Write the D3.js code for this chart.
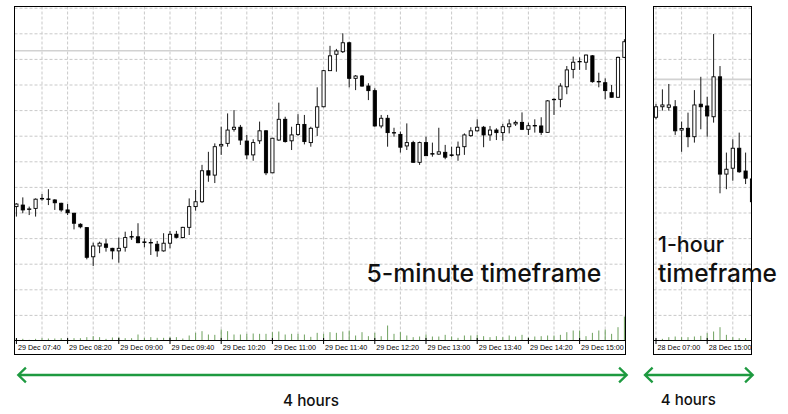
<!DOCTYPE html>
<html><head><meta charset="utf-8">
<script src="https://cdn.jsdelivr.net/npm/d3@7"></script>
<style>html,body{margin:0;padding:0;background:#fff;} svg{display:block;}</style>
</head><body>
<svg id="chart" width="788" height="414"></svg>
<script>
// ---------- 5-minute timeframe (29 Dec, 07:40 onward) ----------
const open5m  = [52.5,53.1,51.4,51.8,55.5,55.5,55.1,53.8,51.2,49.9,45.6,44.3,32.9,37.1,37.9,36.2,35.2,36.6,40.8,40.7,38.7,38.5,37.8,35.2,38.2,41.7,40.4,44.4,52.5,54.4,66.5,64.8,76.2,77.2,82.7,83.5,78.1,72.7,78.2,82.1,65.7,78.5,86.6,78.2,80.7,84.6,77.5,83.5,91.5,105.6,112.0,113.0,116.5,102.6,103.5,99.6,97.8,84.0,87.0,81.4,80.7,76.2,77.5,69.8,77.5,73.2,73.0,73.7,72.7,72.7,75.9,80.2,82.1,83.5,80.5,82.4,81.4,83.7,84.8,85.4,82.7,84.2,84.0,81.5,94.3,94.4,99.3,106.1,109.2,108.9,111.4,101.4,100.9,97.0,95.2,110.8];
const high5m  = [53.8,56.1,52.5,55.7,57.4,59.3,55.4,54.0,53.5,50.1,46.0,44.4,38.4,38.8,39.8,36.4,40.4,42.7,43.0,46.0,40.1,39.8,39.1,42.1,43.0,43.0,44.6,55.7,59.0,68.8,73.9,77.2,83.7,88.9,90.2,84.4,80.5,78.8,85.7,82.4,79.3,93.1,87.6,83.7,88.6,88.3,83.7,99.1,105.9,115.3,114.1,120.2,116.9,103.9,103.9,100.7,98.7,88.3,88.3,83.3,81.8,85.0,78.2,77.9,79.8,77.5,83.3,76.6,75.9,77.9,81.1,83.5,86.6,84.0,84.0,83.1,84.8,86.6,86.1,89.3,85.3,86.6,87.4,94.1,94.8,100.7,107.4,111.1,110.8,111.9,111.7,104.8,102.6,100.0,111.1,117.9];
const low5m   = [48.6,49.9,49.2,48.6,54.8,53.1,51.2,50.5,49.2,43.6,44.0,31.9,29.3,34.3,34.9,31.9,30.6,34.9,39.5,38.2,36.6,33.6,32.9,34.9,36.2,40.1,40.1,41.4,50.9,53.9,62.2,61.7,72.7,75.9,81.8,76.6,71.0,70.4,77.0,64.8,65.6,78.2,77.5,74.6,80.1,76.8,75.9,80.1,91.3,105.5,105.2,112.5,99.1,98.0,99.3,94.1,83.7,83.1,75.9,79.8,73.6,74.6,69.7,68.8,72.3,72.0,72.7,71.0,72.0,70.4,72.7,79.8,81.8,75.7,78.2,78.5,78.2,81.1,84.0,82.4,80.5,81.4,80.5,81.4,88.3,91.3,96.4,102.6,105.9,105.9,100.9,99.1,94.4,95.1,95.0,110.5];
const close5m = [53.5,51.2,51.6,55.4,55.7,55.3,54.0,51.2,50.1,46.0,44.6,32.7,37.1,38.2,36.6,35.2,36.2,40.4,40.6,38.4,38.5,38.3,35.2,38.2,41.7,40.5,44.4,52.5,54.4,66.5,64.8,75.9,76.8,82.4,83.5,78.5,72.7,77.5,82.1,65.7,79.2,86.6,77.9,80.5,84.6,77.9,83.1,91.5,105.6,111.4,113.3,116.5,102.6,103.5,99.6,97.8,84.0,87.0,81.4,81.3,75.7,77.5,69.8,77.5,72.4,73.0,73.9,71.8,72.5,75.7,80.5,82.1,83.5,80.5,82.4,81.4,83.7,84.8,85.4,82.7,84.1,84.0,81.5,93.8,94.4,99.6,105.9,108.9,109.1,111.7,101.3,101.2,97.8,95.2,110.8,116.9];
const volume5m = [50,50,20,50,70,60,60,70,60,70,70,100,130,100,50,90,100,70,70,180,80,100,80,80,110,100,60,150,230,280,180,170,330,280,180,180,200,210,200,200,250,270,180,200,200,180,110,230,200,250,230,270,300,150,250,130,230,130,450,200,250,150,100,120,180,120,120,170,120,80,150,150,170,130,100,130,100,150,120,170,100,120,130,150,150,170,250,300,300,130,230,300,330,200,400,720];
const level5m = 113.4;
const tickIdx5m = [0,8,16,24,32,40,48,56,64,72,80,88];
const tickLabels5m = ["29 Dec 07:40","29 Dec 08:20","29 Dec 09:00","29 Dec 09:40","29 Dec 10:20","29 Dec 11:00","29 Dec 11:40","29 Dec 12:20","29 Dec 13:00","29 Dec 13:40","29 Dec 14:20","29 Dec 15:00"];

// ---------- 1-hour timeframe (28 Dec, 07:00 onward) ----------
const open1h  = [87.4,91.5,91.3,91.5,82.4,83.1,79.8,92.5,91.8,87.6,103.2,65.2,67.5,75.3,66.4,63.3];
const high1h  = [92.6,98.3,100.4,94.1,85.7,89.2,98.0,103.2,95.4,119.9,107.4,73.6,78.8,81.4,73.6,63.7];
const low1h   = [86.6,90.0,90.0,80.5,73.9,75.7,77.5,82.7,79.8,85.3,57.7,59.3,62.6,65.7,61.3,53.1];
const close1h = [91.5,92.2,92.2,82.1,83.0,79.8,92.2,91.5,87.9,103.2,65.2,67.1,75.3,66.1,63.6,54.4];
const volume1h = [20,50,100,120,100,100,120,140,220,270,400,170,100,70,70,60];
const level1h = 102.2;
const tickIdx1h = [0,8];
const tickLabels1h = ["28 Dec 07:00","28 Dec 15:00"];

const svg = d3.select("#chart");
const defs = svg.append("defs");

function drawPanel(cfg) {
  const g = svg.append("g");
  const id = "clip-" + cfg.name;
  defs.append("clipPath").attr("id", id).append("rect")
    .attr("x", cfg.left).attr("y", cfg.top)
    .attr("width", cfg.right - cfg.left).attr("height", cfg.axisY - cfg.top);

  const n = cfg.open.length;
  const x = d3.scaleLinear().domain([0, n - 1]).range([cfg.x0, cfg.x0 + cfg.step * (n - 1)]);
  const y = d3.scaleLinear().domain([0, 130]).range([341, 8.2]);
  const vy = d3.scaleLinear().domain([0, 1000]).range([cfg.axisY, cfg.axisY - 33.3]);

  const plot = g.append("g").attr("clip-path", `url(#${id})`);

  plot.selectAll("line.hg").data(d3.range(10, 131, 10)).join("line")
    .attr("x1", cfg.left).attr("x2", cfg.right)
    .attr("y1", d => y(d)).attr("y2", d => y(d))
    .attr("stroke", "#c9c9c9").attr("stroke-width", 1).attr("stroke-dasharray", "3,2");
  const gridIdx = d3.range(cfg.gridStart, n, 4);
  plot.selectAll("line.vg").data(gridIdx).join("line")
    .attr("x1", d => x(d)).attr("x2", d => x(d))
    .attr("y1", cfg.top).attr("y2", cfg.axisY)
    .attr("stroke", "#c9c9c9").attr("stroke-width", 1).attr("stroke-dasharray", "3,2");

  plot.append("line").attr("x1", cfg.left).attr("x2", cfg.right)
    .attr("y1", y(cfg.level)).attr("y2", y(cfg.level))
    .attr("stroke", "#d2d2d2").attr("stroke-width", 1.6);

  plot.selectAll("line.vol").data(cfg.volume).join("line")
    .attr("x1", (d, i) => x(i)).attr("x2", (d, i) => x(i))
    .attr("y1", cfg.axisY).attr("y2", d => vy(d))
    .attr("stroke", "#6fa25f").attr("stroke-width", 1);

  const idx = d3.range(n);
  plot.selectAll("line.wick").data(idx).join("line")
    .attr("x1", i => x(i)).attr("x2", i => x(i))
    .attr("y1", i => y(cfg.high[i])).attr("y2", i => y(cfg.low[i]))
    .attr("stroke", "#1a1a1a").attr("stroke-width", 1);
  plot.selectAll("rect.body").data(idx).join("rect")
    .attr("x", i => x(i) - 1.6)
    .attr("width", 3.2)
    .attr("y", i => y(Math.max(cfg.open[i], cfg.close[i])))
    .attr("height", i => Math.max(0.4, Math.abs(y(cfg.open[i]) - y(cfg.close[i]))))
    .attr("fill", i => cfg.close[i] >= cfg.open[i] ? "#fff" : "#000")
    .attr("stroke", "#000").attr("stroke-width", 0.9);

  g.append("rect").attr("x", cfg.left).attr("y", cfg.top)
    .attr("width", cfg.right - cfg.left).attr("height", cfg.bottom - cfg.top)
    .attr("fill", "none").attr("stroke", "#000").attr("stroke-width", 1);
  g.append("line").attr("x1", cfg.left).attr("x2", cfg.right)
    .attr("y1", cfg.axisY).attr("y2", cfg.axisY)
    .attr("stroke", "#000").attr("stroke-width", 1);

  g.selectAll("line.tk").data(cfg.tickIdx).join("line")
    .attr("x1", d => x(d)).attr("x2", d => x(d))
    .attr("y1", cfg.axisY - 2.5).attr("y2", cfg.axisY + 3.5)
    .attr("stroke", "#000").attr("stroke-width", 1);
  g.selectAll("text.tl").data(cfg.tickIdx).join("text")
    .attr("x", d => x(d) + 1.5).attr("y", cfg.axisY + 9.5)
    .attr("font-family", "'Liberation Sans', Arial, sans-serif")
    .attr("font-size", 7.2).attr("fill", "#000")
    .text((d, k) => cfg.tickLabels[k]);
}

drawPanel({name: "m5", left: 14.5, right: 625.5, top: 6.5, axisY: 340.5, bottom: 354.5,
  x0: 16.4, step: 6.4, gridStart: 4,
  open: open5m, high: high5m, low: low5m, close: close5m, volume: volume5m,
  level: level5m, tickIdx: tickIdx5m, tickLabels: tickLabels5m});
drawPanel({name: "h1", left: 653.5, right: 751.5, top: 6.5, axisY: 340.5, bottom: 354.5,
  x0: 656, step: 6.4, gridStart: 0,
  open: open1h, high: high1h, low: low1h, close: close1h, volume: volume1h,
  level: level1h, tickIdx: tickIdx1h, tickLabels: tickLabels1h});

function fitText(sel, targetW) {
  const w = sel.node().getComputedTextLength();
  const fs = parseFloat(sel.attr("font-size"));
  if (w > 0) sel.attr("font-size", fs * targetW / w);
  return sel;
}
const FONT = "Inter, 'Noto Sans', sans-serif";
function label(txt, xPos, yPos, size, targetW, anchor) {
  const t = svg.append("text").attr("x", xPos).attr("y", yPos)
    .attr("font-family", FONT).attr("font-size", size).attr("font-weight", 500)
    .attr("fill", "#111").attr("text-anchor", anchor || "start").text(txt);
  fitText(t, targetW);
  return t;
}
label("5-minute timeframe", 366.5, 281.7, 24, 235);
label("1-hour", 658, 251.7, 24, 66);
label("timeframe", 658, 281.7, 22.5, 119);
label("4 hours", 311, 406, 16, 56, "middle");
label("4 hours", 688.3, 405, 16, 55, "middle");

function arrow(x1, x2, yy) {
  const a = 7.6, h = 7.3;
  svg.append("path")
    .attr("d", `M${x1},${yy}H${x2} M${x1 + a},${yy - h}L${x1},${yy}L${x1 + a},${yy + h} M${x2 - a},${yy - h}L${x2},${yy}L${x2 - a},${yy + h}`)
    .attr("fill", "none").attr("stroke", "#1e9a40").attr("stroke-width", 2.3)
    .attr("stroke-linejoin", "miter").attr("stroke-linecap", "butt");
}
arrow(18.3, 626.7, 375);
arrow(645, 752.7, 375);
</script>
</body></html>
